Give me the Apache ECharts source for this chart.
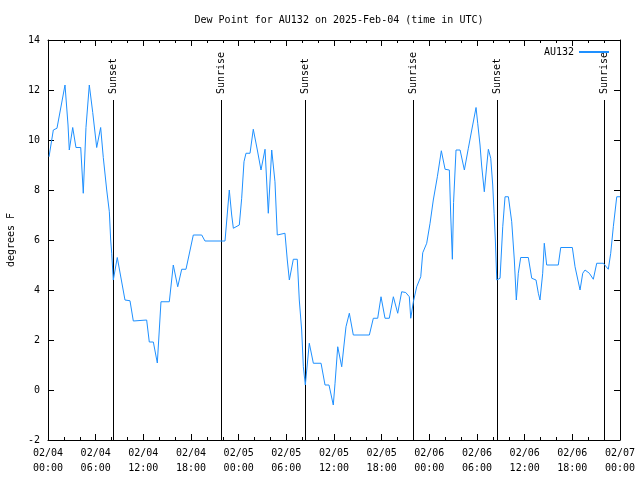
<!DOCTYPE html>
<html>
<head>
<meta charset="utf-8">
<script src="https://cdn.jsdelivr.net/npm/echarts@6/dist/echarts.min.js"></script>
<style>html,body{margin:0;padding:0;background:#fff;}#c{width:640px;height:480px;}</style>
</head>
<body>
<div id="c"></div>
<script>
// hours since 2025-02-04 00:00 UTC
const hours = [0.13,0.67,1.13,2.14,2.52,2.68,3.11,3.52,4.12,4.44,4.78,5.2,5.63,6.13,6.63,6.96,7.39,7.72,7.89,8.02,8.22,8.72,9.69,10.32,10.74,12.42,12.75,13.26,13.76,14.22,15.27,15.77,16.33,16.83,17.37,18.29,19.35,19.76,22.28,22.82,23.12,23.33,24.08,24.38,24.67,24.92,25.43,25.84,26.35,26.81,27.32,27.73,28.16,28.36,28.57,28.86,29.83,30.12,30.38,30.88,31.38,31.63,31.93,32.14,32.39,32.89,33.4,34.37,34.87,35.37,35.91,36.13,36.47,36.97,37.26,37.51,37.93,38.43,40.45,40.95,41.5,41.92,42.42,42.96,43.47,44.02,44.52,45.03,45.48,45.66,45.99,46.41,46.92,47.17,47.67,48.09,48.5,49.01,49.51,49.98,50.52,50.69,50.9,51.05,51.36,51.87,52.41,52.91,53.34,53.88,54.09,54.38,54.59,54.92,55.22,55.43,55.73,55.98,56.15,56.31,56.49,56.9,57.24,57.53,57.95,58.37,58.7,58.95,59.2,59.5,60.46,60.89,61.43,61.72,61.93,62.27,62.47,62.77,64.23,64.54,66.0,66.34,66.97,67.31,67.6,68.14,68.64,69.07,69.9,70.53,70.83,71.16,71.59,72.0];
const dewPoint = [9.33,10.4,10.47,12.2,10.6,9.6,10.5,9.7,9.7,7.87,10.5,12.2,11.1,9.7,10.5,9.3,8.0,7.13,6.0,5.47,4.4,5.3,3.6,3.57,2.76,2.8,1.92,1.92,1.08,3.53,3.53,5.0,4.13,4.83,4.83,6.2,6.2,5.96,5.96,8.0,7.0,6.47,6.6,7.67,9.13,9.47,9.47,10.43,9.6,8.8,9.63,7.07,9.6,9.6,8.33,6.2,6.27,5.2,4.4,5.23,5.23,3.6,2.4,0.93,0.2,1.87,1.07,1.07,0.2,0.2,-0.6,0.27,1.73,0.93,1.8,2.53,3.07,2.2,2.2,2.87,2.87,3.73,2.87,2.87,3.73,3.07,3.93,3.9,3.73,2.87,3.53,4.13,4.53,5.49,5.87,6.67,7.6,8.53,9.57,8.83,8.8,7.0,5.23,7.5,9.6,9.6,8.8,9.67,10.4,11.3,10.67,9.8,8.96,7.93,8.96,9.63,9.27,8.2,7.07,6.0,4.4,4.47,6.53,7.73,7.73,6.73,5.2,3.6,4.67,5.3,5.3,4.47,4.4,3.87,3.6,4.67,5.87,5.0,5.0,5.7,5.7,4.93,4.0,4.67,4.8,4.67,4.43,5.07,5.07,4.83,5.47,6.53,7.73,7.73];
const sunHours = [8.22, 21.82, 32.37, 45.97, 56.54, 70.02];
const sunLabels = ["Sunset", "Sunrise", "Sunset", "Sunrise", "Sunset", "Sunrise"];
const sunLineTop = 11.6;
const days = ["02/04", "02/05", "02/06", "02/07"];

const MONO = "DejaVu Sans Mono";
const chart = echarts.init(document.getElementById('c'), null, {renderer: 'canvas'});

function xLabel(v) {
  const d = Math.floor(v / 24 + 1e-6);
  const hh = Math.round(v - d * 24);
  return days[d] + "\n" + (hh < 10 ? "0" : "") + hh + ":00";
}

const xCommon = {
  type: 'value', min: 0, max: 72, interval: 6,
  axisLine: {show: true, onZero: false, lineStyle: {color: '#000', width: 1}},
  axisTick: {show: true, inside: true, length: 6, lineStyle: {color: '#000'}},
  minorTick: {show: true, splitNumber: 3, length: 3, lineStyle: {color: '#000'}},
  splitLine: {show: false}
};
const yCommon = {
  type: 'value', min: -2, max: 14, interval: 2,
  axisLine: {show: true, onZero: false, lineStyle: {color: '#000', width: 1}},
  axisTick: {show: true, inside: true, length: 6, lineStyle: {color: '#000'}},
  splitLine: {show: false}
};

chart.setOption({
  animation: false,
  backgroundColor: '#fff',
  title: {
    text: 'Dew Point for AU132 on 2025-Feb-04 (time in UTC)',
    left: 334, top: 10, textAlign: 'center',
    textStyle: {fontFamily: MONO, fontSize: 10, fontWeight: 'normal', color: '#000'}
  },
  legend: {
    top: 42, right: 26, itemWidth: 30, itemHeight: 2, align: 'right',
    icon: 'rect',
    textStyle: {fontFamily: MONO, fontSize: 10, color: '#000'},
    data: ['AU132']
  },
  grid: {left: 48, right: 20, top: 40, bottom: 40, show: false, containLabel: false, outerBoundsMode: 'none'},
  xAxis: [
    Object.assign({}, xCommon, {
      position: 'bottom',
      axisLabel: {formatter: xLabel, fontFamily: MONO, fontSize: 10, color: '#000', lineHeight: 15, margin: 6}
    }),
    Object.assign({}, xCommon, {position: 'top', axisLabel: {show: false}})
  ],
  yAxis: [
    Object.assign({}, yCommon, {
      position: 'left',
      name: 'degrees F', nameLocation: 'middle', nameGap: 32, nameRotate: 90,
      nameTextStyle: {fontFamily: MONO, fontSize: 10, color: '#000'},
      axisLabel: {fontFamily: MONO, fontSize: 10, color: '#000', margin: 8}
    }),
    Object.assign({}, yCommon, {position: 'right', axisLabel: {show: false}})
  ],
  series: [
    {
      type: 'custom',
      xAxisIndex: 0, yAxisIndex: 0,
      silent: true,
      z: 1,
      data: sunHours.map(h => [h, sunLineTop]),
      renderItem: function (params, api) {
        const top = api.coord([api.value(0), api.value(1)]);
        const bot = api.coord([api.value(0), -2]);
        const x = Math.round(top[0]) + 0.5;
        return {
          type: 'group',
          children: [
            {type: 'line', shape: {x1: x, y1: Math.round(top[1]), x2: x, y2: bot[1]},
             style: {stroke: '#000', lineWidth: 1}},
            {type: 'text', x: x, y: Math.round(top[1]) - 6, rotation: Math.PI / 2,
             style: {text: sunLabels[params.dataIndex], textAlign: 'left', textVerticalAlign: 'middle',
                     font: '10px ' + MONO, fill: '#000'}}
          ]
        };
      }
    },
    {
      name: 'AU132',
      type: 'line',
      xAxisIndex: 0, yAxisIndex: 0,
      z: 3,
      showSymbol: false,
      symbol: 'none',
      lineStyle: {color: '#1e90ff', width: 1},
      itemStyle: {color: '#1e90ff'},
      data: hours.map((h, i) => [h, dewPoint[i]])
    }
  ]
});
</script>
</body>
</html>
